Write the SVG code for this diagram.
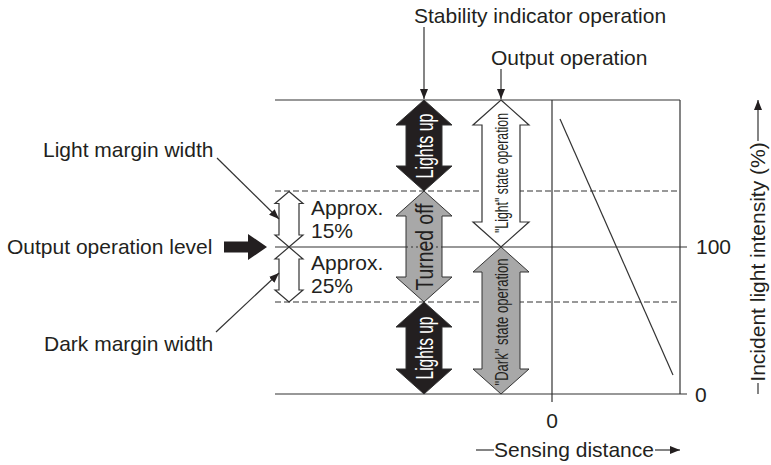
<svg xmlns="http://www.w3.org/2000/svg" width="771" height="465" viewBox="0 0 771 465">
<style>
text{font-family:"Liberation Sans",Arial,sans-serif;font-size:21px;fill:#231f20}
.ln{stroke:#333;stroke-width:1.2;fill:none}
.dash{stroke:#333;stroke-width:1.1;fill:none;stroke-dasharray:6,3}
.blk{fill:#231f20;stroke:#333;stroke-width:1}
.gry{fill:#a8a8a8;stroke:#333;stroke-width:1}
.wht{fill:#fff;stroke:#333;stroke-width:1.2}
.wt{fill:#fff}
.big{font-size:23px}
.sm{font-size:19px}
</style>
<defs>
<marker id="ah" markerWidth="10" markerHeight="8" refX="10" refY="4" orient="auto" markerUnits="userSpaceOnUse">
<path d="M0,0 L10,4 L0,8 Z" fill="#231f20"/>
</marker>
</defs>
<rect width="771" height="465" fill="#fff"/>

<g id="chart-frame">
<line class="ln" x1="275" y1="100" x2="680" y2="100"/>
<line class="ln" x1="275" y1="394" x2="687" y2="394"/>
<line class="ln" x1="275" y1="247" x2="687" y2="247"/>
<line class="ln" x1="680" y1="100" x2="680" y2="394"/>
<line class="ln" x1="552" y1="100" x2="552" y2="402"/>
<line class="dash" x1="275" y1="191" x2="680" y2="191"/>
<line class="dash" x1="275" y1="302" x2="680" y2="302"/>
<line class="ln" x1="560" y1="119" x2="673" y2="375"/>
</g>

<g id="axis-labels">
<text x="696" y="254">100</text>
<text x="695" y="402">0</text>
<text x="552" y="428" text-anchor="middle">0</text>
</g>

<g id="margin-arrows">
<polygon class="wht" points="289,191.5 303,203.5 299,203.5 299,235 303,235 289,247 275,235 279,235 279,203.5 275,203.5"/>
<polygon class="wht" points="289,247 303,259 299,259 299,290 303,290 289,302 275,290 279,290 279,259 275,259"/>
<text x="311" y="215">Approx.</text>
<text x="311" y="238">15%</text>
<text x="311" y="270">Approx.</text>
<text x="311" y="293">25%</text>
</g>

<g id="stability-lights-up-top">
<polygon class="blk" points="424,100 452,125 442,125 442,166 452,166 424,191 396,166 406,166 406,125 396,125"/>
<text class="wt big" transform="translate(433,146) rotate(-90)" text-anchor="middle" textLength="65" lengthAdjust="spacingAndGlyphs">Lights up</text>
</g>
<g id="stability-turned-off">
<polygon class="gry" points="424,191 452,216 442,216 442,277 452,277 424,302 396,277 406,277 406,216 396,216"/>
<line x1="406" y1="247" x2="442" y2="247" stroke="#333" stroke-width="1" stroke-dasharray="2,3"/>
<text class="big" transform="translate(433,247) rotate(-90)" text-anchor="middle" textLength="87" lengthAdjust="spacingAndGlyphs">Turned off</text>
</g>
<g id="stability-lights-up-bottom">
<polygon class="blk" points="424,302 452,327 442,327 442,369 452,369 424,394 396,369 406,369 406,327 396,327"/>
<text class="wt big" transform="translate(433,348) rotate(-90)" text-anchor="middle" textLength="63" lengthAdjust="spacingAndGlyphs">Lights up</text>
</g>
<g id="output-light-state">
<polygon class="wht" points="501,100 529,125 520,125 520,222 529,222 501,247 473,222 482,222 482,125 473,125"/>
<text class="sm" transform="translate(508,173) rotate(-90)" text-anchor="middle" textLength="120" lengthAdjust="spacingAndGlyphs">"Light" state operation</text>
</g>
<g id="output-dark-state">
<polygon class="gry" points="501,247 529,272 520,272 520,369 529,369 501,394 473,369 482,369 482,272 473,272"/>
<text class="sm" transform="translate(508,322) rotate(-90)" text-anchor="middle" textLength="127" lengthAdjust="spacingAndGlyphs">"Dark" state operation</text>
</g>

<g id="output-operation-level">
<text x="7" y="254">Output operation level</text>
<polygon points="224,241.5 248,241.5 248,234 267,247 248,260 248,252.5 224,252.5" fill="#231f20"/>
</g>

<g id="labels">
<text x="414" y="23">Stability indicator operation</text>
<text x="491" y="65">Output operation</text>
<text x="43" y="157">Light margin width</text>
<text x="44" y="351">Dark margin width</text>
<text transform="translate(765,262) rotate(-90)" text-anchor="middle">Incident light intensity (%)</text>
<text x="494" y="457">Sensing distance</text>
</g>

<g id="connectors">
<line class="ln" x1="424" y1="27" x2="424" y2="99" marker-end="url(#ah)"/>
<line class="ln" x1="501" y1="69" x2="501" y2="99" marker-end="url(#ah)"/>
<line class="ln" x1="217" y1="158" x2="279" y2="219" marker-end="url(#ah)"/>
<line class="ln" x1="216" y1="332" x2="279" y2="273" marker-end="url(#ah)"/>
<line class="ln" x1="758" y1="394" x2="758" y2="383"/>
<line class="ln" x1="758" y1="141" x2="758" y2="100" marker-end="url(#ah)"/>
<line class="ln" x1="476" y1="450" x2="494" y2="450"/>
<line class="ln" x1="655" y1="450" x2="680" y2="450" marker-end="url(#ah)"/>
</g>
</svg>
